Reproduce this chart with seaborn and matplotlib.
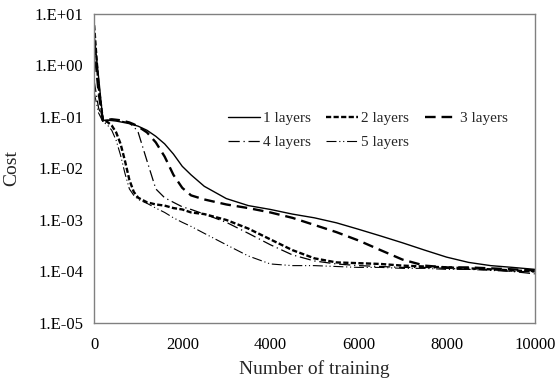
import numpy as np
import pandas as pd
import matplotlib
matplotlib.use("Agg")
import matplotlib.pyplot as plt
import seaborn as sns
from matplotlib.ticker import FuncFormatter, FixedLocator, NullLocator

steps = [0, 100, 200, 300, 400, 500, 600, 700, 800, 900, 1000, 1200, 1400, 1600, 1800,
         2000, 2200, 2500, 3000, 3500, 4000, 4500, 5000, 5500, 6000, 6500, 7000, 7500,
         8000, 8500, 9000, 9500, 10000]

cost_1 = [4, 0.6, 0.085, 0.086, 0.085, 0.083, 0.08, 0.077, 0.074, 0.07, 0.066, 0.055, 0.042,
          0.03, 0.019, 0.011, 0.0075, 0.0045, 0.0026, 0.0019, 0.0016, 0.0013, 0.0011, 0.00088,
          0.00066, 0.00049, 0.00036, 0.00026, 0.00019, 0.00015, 0.00013, 0.00012, 0.00011]
cost_2 = [6, 0.4, 0.085, 0.08, 0.068, 0.05, 0.03, 0.014, 0.006, 0.0035, 0.0027, 0.0022, 0.002,
          0.0019, 0.0017, 0.0016, 0.0014, 0.0013, 0.001, 0.00068, 0.00042, 0.00026, 0.00018,
          0.00015, 0.000145, 0.00014, 0.00013, 0.000125, 0.00012, 0.000115, 0.00011, 0.000105, 0.0001]
cost_3 = [2.5, 0.3, 0.085, 0.088, 0.09, 0.088, 0.086, 0.082, 0.078, 0.072, 0.065, 0.05, 0.032,
          0.017, 0.0075, 0.0042, 0.003, 0.0025, 0.002, 0.0017, 0.0014, 0.0011, 0.0008, 0.00058,
          0.0004, 0.00026, 0.00017, 0.00013, 0.00012, 0.00012, 0.000115, 0.00011, 0.000105]
cost_4 = [0.5, 0.15, 0.085, 0.087, 0.086, 0.085, 0.083, 0.08, 0.075, 0.065, 0.05, 0.014, 0.004,
          0.0027, 0.0022, 0.0018, 0.0016, 0.0013, 0.0009, 0.00055, 0.00033, 0.00021, 0.00016,
          0.00014, 0.00013, 0.000125, 0.00012, 0.00012, 0.000115, 0.00011, 0.00011, 0.0001, 0.00009]
cost_5 = [0.3, 0.12, 0.08, 0.07, 0.055, 0.035, 0.018, 0.008, 0.004, 0.003, 0.0025, 0.0021,
          0.0017, 0.0014, 0.0011, 0.0009, 0.00075, 0.00055, 0.00033, 0.0002, 0.00014, 0.00013,
          0.00013, 0.000125, 0.00012, 0.00012, 0.000115, 0.000115, 0.00011, 0.00011, 0.000105,
          0.0001, 0.0001]

labels = ["1 layers", "2 layers", "3 layers", "4 layers", "5 layers"]
series = [cost_1, cost_2, cost_3, cost_4, cost_5]

df = pd.concat([pd.DataFrame({"step": steps, "cost": s, "series": lab})
                for lab, s in zip(labels, series)], ignore_index=True)

sns.set_style("white")
plt.rcParams["font.family"] = ["Liberation Serif", "DejaVu Serif"]

fig = plt.figure(figsize=(5.57, 3.85), dpi=100)
ax = fig.add_axes([0.169, 0.161, 0.791, 0.803])

dashes = {
    "1 layers": "",
    "2 layers": (2.2, 1.0),
    "3 layers": (4.5, 2.5),
    "4 layers": (9, 3, 1, 3),
    "5 layers": (9, 2.5, 1, 2.5, 1, 2.5),
}
widths = {"1 layers": 1.0, "2 layers": 1.7, "3 layers": 1.7, "4 layers": 0.9, "5 layers": 0.8}

for lab in labels:
    sub = df[df["series"] == lab]
    sns.lineplot(data=sub, x="step", y="cost", ax=ax, color="black",
                 lw=widths[lab], label=lab, legend=False)
    line = ax.lines[-1]
    if dashes[lab]:
        line.set_dashes(dashes[lab])

ax.set_yscale("log")
ax.set_ylim(1e-5, 1e1)
ax.set_xlim(0, 10000)
ax.yaxis.set_major_locator(FixedLocator([1e-5, 1e-4, 1e-3, 1e-2, 1e-1, 1e0, 1e1]))
ax.yaxis.set_minor_locator(NullLocator())
ax.yaxis.set_major_formatter(FuncFormatter(lambda v, p: "1.E{:+03d}".format(int(round(np.log10(v))))))
ax.set_xticks([0, 2000, 4000, 6000, 8000, 10000])

for sp in ax.spines.values():
    sp.set_color("#808080")
    sp.set_linewidth(1.0)
ax.tick_params(axis="both", direction="in", length=4, width=1, color="#808080",
               labelsize=12, labelcolor="black", pad=8)
ax.tick_params(axis="x", pad=10)

ax.set_xlabel("Number of training", fontsize=14, labelpad=5)
ax.set_ylabel("Cost", fontsize=14, labelpad=10)

handles = ax.lines[:5]
order = [0, 3, 1, 4, 2]
leg = ax.legend([handles[i] for i in order], [labels[i] for i in order], ncol=3,
                loc="upper left", bbox_to_anchor=(0.29, 0.705), frameon=False,
                fontsize=11, handlelength=2.1, handletextpad=0.2, columnspacing=1.0,
                labelspacing=0.7, borderaxespad=0)

fig.savefig("out.png", dpi=100)
